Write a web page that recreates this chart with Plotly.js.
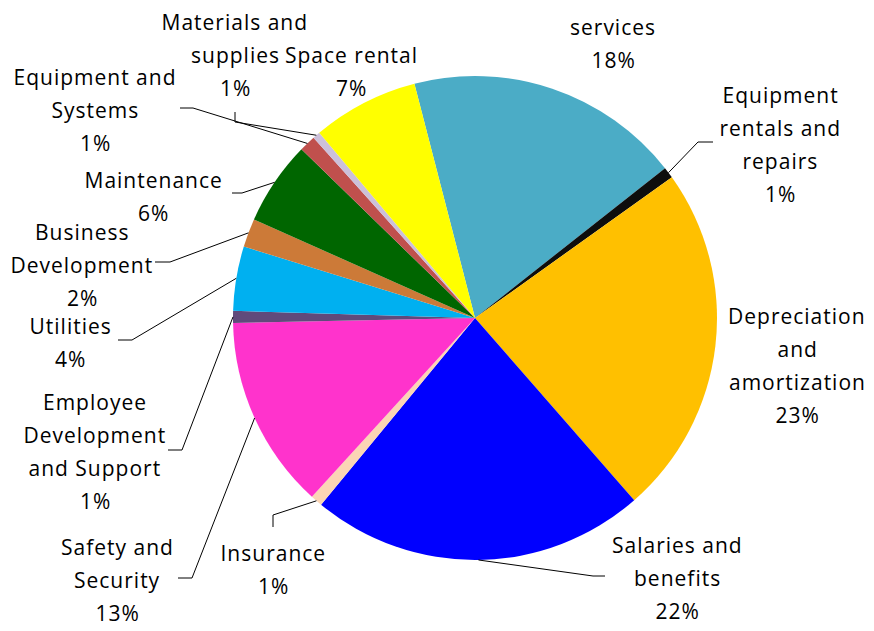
<!DOCTYPE html>
<html>
<head>
<meta charset="utf-8">
<script src="https://cdn.plot.ly/plotly-3.0.1.min.js"></script>
<style>html,body{margin:0;padding:0;background:#fff;}#chart{width:874px;height:631px;}
#chart .annotation-text{letter-spacing:1px;}</style>
</head>
<body>
<div id="chart"></div>
<script>
// ---- data ----
const categories = ['services', 'Equipment rentals and repairs', 'Depreciation and amortization',
  'Salaries and benefits', 'Insurance', 'Safety and Security', 'Employee Development and Support',
  'Utilities', 'Business Development', 'Maintenance', 'Equipment and Systems',
  'Materials and supplies', 'Space rental'];
const shares = [18.4, 0.75, 23.45, 22.4, 0.8, 12.9, 0.8, 4.3, 1.9, 5.6, 1.1, 0.5, 7.1];
const labelLines = [['services'], ['Equipment', 'rentals and', 'repairs'], ['Depreciation', 'and', 'amortization'],
  ['Salaries and', 'benefits'], ['Insurance'], ['Safety and', 'Security'], ['Employee', 'Development', 'and Support'],
  ['Utilities'], ['Business', 'Development'], ['Maintenance'], ['Equipment and', 'Systems'],
  ['Materials and', 'supplies'], ['Space rental']];

// ---- style / layout ----
const colors = ['#4BACC6', '#0D0D0D', '#FFC000', '#0000FF', '#FBD5B5', '#FF33CC', '#604A7B',
  '#00B0F0', '#CC7A38', '#006600', '#C0504D', '#CCC0DA', '#FFFF00'];
const W = 874, H = 631;
const CX = 475, CY = 318, R = 242, ROT = -14.5;
const LINE_H = 33;
const FONT = {family: 'Open Sans, Lato, sans-serif', size: 21, color: '#000'};
// label text centre x, first line y, leader elbow, leader end (pixels)
const labelPos = [
  {x: 613, y: 27},
  {x: 780, y: 95, elbow: [698, 142], end: [713, 142]},
  {x: 797, y: 316},
  {x: 677, y: 545, elbow: [593, 576], end: [605, 576]},
  {x: 273, y: 553, elbow: [273, 515], end: [273, 527]},
  {x: 117, y: 547, elbow: [192, 578], end: [178, 578]},
  {x: 95, y: 402, elbow: [182, 450], end: [168, 450]},
  {x: 70, y: 326, elbow: [132, 340], end: [118, 340]},
  {x: 82, y: 232, elbow: [170, 262], end: [155, 262]},
  {x: 153, y: 180, elbow: [242, 193], end: [232, 193]},
  {x: 95, y: 77, elbow: [193, 108], end: [180, 108]},
  {x: 235, y: 22, elbow: [235, 122], end: [235, 112]},
  {x: 351, y: 55}
];

const px = x => x / W;
const py = y => 1 - y / H;

const total = shares.reduce((a, b) => a + b, 0);
const annotations = [];
const shapes = [];
let cum = 0;
shares.forEach((v, i) => {
  const mid = (ROT + (cum + v / 2) / total * 360) * Math.PI / 180;
  cum += v;
  const tip = [CX + R * Math.sin(mid), CY - R * Math.cos(mid)];
  const lp = labelPos[i];
  const lines = labelLines[i].concat([Math.round(v / total * 100) + '%']);
  lines.forEach((t, k) => {
    annotations.push({
      text: t, xref: 'paper', yref: 'paper', x: px(lp.x), y: py(lp.y + k * LINE_H),
      xanchor: 'center', yanchor: 'middle', showarrow: false, font: FONT
    });
  });
  if (lp.elbow) {
    shapes.push({
      type: 'path', xref: 'paper', yref: 'paper',
      path: 'M ' + px(tip[0]) + ' ' + py(tip[1]) + ' L ' + px(lp.elbow[0]) + ' ' + py(lp.elbow[1]) +
        ' L ' + px(lp.end[0]) + ' ' + py(lp.end[1]),
      line: {color: '#000', width: 1}
    });
  }
});

const trace = {
  type: 'pie', labels: categories, values: shares, sort: false, direction: 'clockwise',
  rotation: ROT, textinfo: 'none', hoverinfo: 'none',
  marker: {colors: colors, line: {width: 0}},
  domain: {x: [px(CX - R), px(CX + R)], y: [py(CY + R), py(CY - R)]}
};

Plotly.newPlot('chart', [trace], {
  width: W, height: H, margin: {l: 0, r: 0, t: 0, b: 0},
  showlegend: false, paper_bgcolor: '#fff', plot_bgcolor: '#fff',
  annotations: annotations, shapes: shapes
}, {staticPlot: true});
</script>
</body>
</html>
